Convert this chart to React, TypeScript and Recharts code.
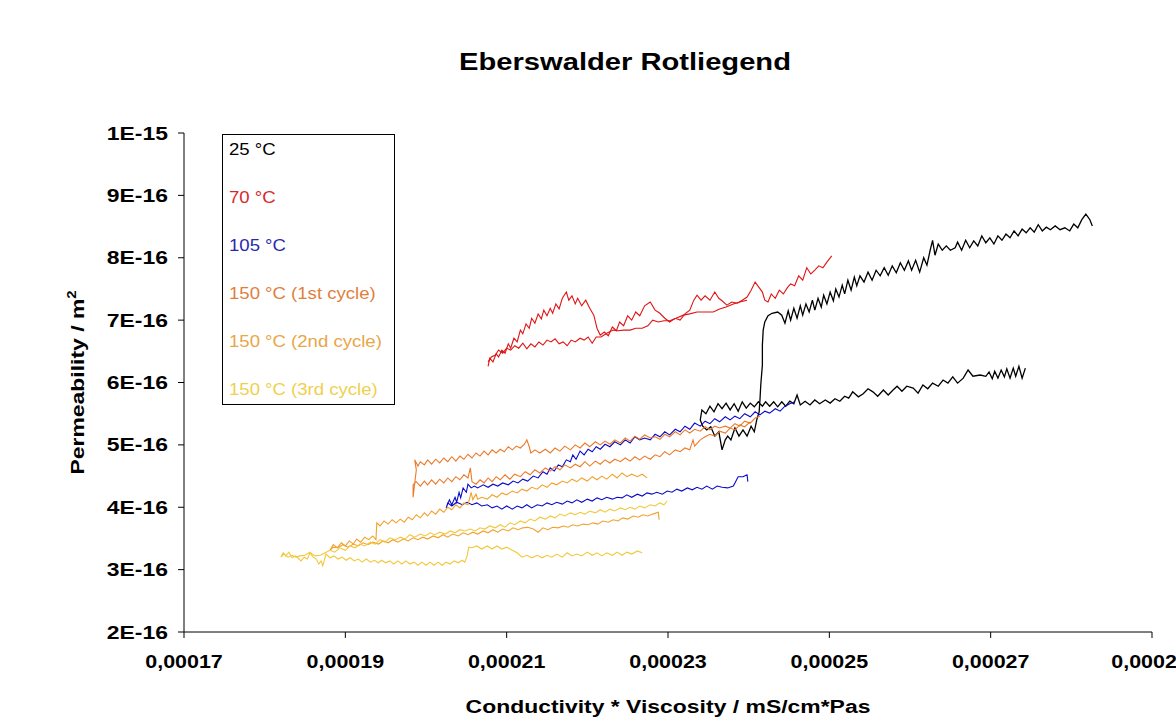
import React from "react"
import { LineChart, Line, XAxis, YAxis, Label } from "recharts"

// x in 1e-5 mS/cm*Pas, y in 1e-16 m²
const black25Low: [number, number][] = [
  [27.43, 6.23], [27.39, 6.07], [27.35, 6.26], [27.31, 6.1], [27.28, 6.23], [27.24, 6.07], [27.2, 6.22], [27.17, 6.09],
  [27.13, 6.2], [27.09, 6.07], [27.05, 6.18], [27.02, 6.06], [26.98, 6.17], [26.94, 6.1], [26.87, 6.12], [26.78, 6.1],
  [26.72, 6.2], [26.66, 6.07], [26.59, 5.99], [26.53, 6.09], [26.47, 5.99], [26.41, 6.04], [26.35, 5.94], [26.28, 5.99],
  [26.22, 5.9], [26.16, 5.96], [26.1, 5.83], [26.04, 5.91], [25.96, 5.94], [25.9, 5.86], [25.84, 5.94], [25.79, 5.88],
  [25.73, 5.8], [25.67, 5.88], [25.6, 5.78], [25.54, 5.85], [25.48, 5.9], [25.42, 5.82], [25.36, 5.77], [25.29, 5.85],
  [25.24, 5.75], [25.19, 5.78], [25.13, 5.7], [25.07, 5.74], [25.01, 5.67], [24.95, 5.72], [24.88, 5.66], [24.82, 5.72],
  [24.76, 5.64], [24.7, 5.7], [24.64, 5.64], [24.6, 5.8], [24.56, 5.66], [24.51, 5.7], [24.46, 5.62], [24.41, 5.69],
  [24.36, 5.61], [24.31, 5.69], [24.26, 5.62], [24.21, 5.69], [24.17, 5.62], [24.12, 5.69], [24.07, 5.61], [24.02, 5.67],
  [23.97, 5.59], [23.92, 5.69], [23.87, 5.54], [23.82, 5.66], [23.77, 5.56], [23.72, 5.67], [23.67, 5.58], [23.62, 5.66],
  [23.57, 5.53], [23.52, 5.62], [23.47, 5.5], [23.42, 5.56], [23.4, 5.4],
]
const black25Jump: [number, number][] = [
  [23.43, 5.3], [23.48, 5.24], [23.53, 5.29], [23.58, 5.14], [23.63, 5.21], [23.67, 4.92], [23.71, 5.08], [23.74, 5.14],
  [23.78, 5.08], [23.83, 5.27], [23.88, 5.14], [23.93, 5.24], [23.98, 5.14], [24.03, 5.3], [24.07, 5.21], [24.1, 5.4],
  [24.13, 5.53], [24.14, 5.72], [24.15, 5.96], [24.17, 6.28], [24.17, 6.6], [24.18, 6.84], [24.2, 6.97], [24.24, 7.07],
  [24.29, 7.11], [24.36, 7.13], [24.41, 7.08],
]
const black25High: [number, number][] = [
  [24.45, 6.95], [24.49, 7.15], [24.52, 7.0], [24.56, 7.19], [24.6, 7.03], [24.64, 7.23], [24.67, 7.08], [24.71, 7.26],
  [24.75, 7.13], [24.79, 7.32], [24.82, 7.16], [24.86, 7.35], [24.9, 7.21], [24.93, 7.4], [24.97, 7.26], [25.01, 7.45],
  [25.05, 7.31], [25.08, 7.5], [25.12, 7.37], [25.16, 7.56], [25.19, 7.42], [25.23, 7.64], [25.27, 7.48], [25.31, 7.69],
  [25.34, 7.55], [25.38, 7.71], [25.43, 7.61], [25.48, 7.77], [25.53, 7.64], [25.58, 7.8], [25.63, 7.71], [25.68, 7.84],
  [25.73, 7.72], [25.78, 7.87], [25.83, 7.76], [25.88, 7.92], [25.93, 7.8], [25.98, 7.95], [26.02, 7.8], [26.07, 7.96],
  [26.12, 7.77], [26.17, 8.0], [26.21, 7.88], [26.25, 8.12], [26.28, 8.28], [26.31, 8.04], [26.35, 8.22], [26.4, 8.12],
  [26.45, 8.19], [26.5, 8.12], [26.56, 8.16], [26.59, 8.25], [26.64, 8.12], [26.69, 8.28], [26.74, 8.16], [26.79, 8.27],
  [26.84, 8.19], [26.89, 8.35], [26.94, 8.24], [26.99, 8.32], [27.04, 8.22], [27.09, 8.35], [27.14, 8.28], [27.19, 8.38],
  [27.24, 8.32], [27.29, 8.43], [27.34, 8.35], [27.39, 8.46], [27.44, 8.4], [27.49, 8.48], [27.54, 8.41], [27.59, 8.53],
  [27.64, 8.43], [27.69, 8.49], [27.74, 8.45], [27.8, 8.51], [27.86, 8.45], [27.92, 8.48], [27.98, 8.43], [28.03, 8.54],
  [28.08, 8.48], [28.13, 8.61], [28.18, 8.7], [28.23, 8.61], [28.26, 8.51],
]

const red70Heat: [number, number][] = [
  [20.77, 6.26], [20.79, 6.39], [20.83, 6.33], [20.87, 6.46], [20.9, 6.41], [20.94, 6.52], [20.98, 6.47], [21.02, 6.62],
  [21.05, 6.55], [21.09, 6.71], [21.13, 6.65], [21.17, 6.84], [21.2, 6.78], [21.24, 6.94], [21.28, 6.87], [21.31, 7.03],
  [21.35, 6.95], [21.39, 7.1], [21.43, 7.02], [21.46, 7.16], [21.5, 7.07], [21.54, 7.19], [21.57, 7.11], [21.61, 7.26],
  [21.65, 7.18], [21.69, 7.35], [21.74, 7.45], [21.77, 7.32], [21.81, 7.39], [21.85, 7.26], [21.88, 7.35], [21.93, 7.23],
  [21.98, 7.32], [22.03, 7.19], [22.08, 7.08], [22.12, 6.87], [22.16, 6.76], [22.21, 6.81], [22.26, 6.75], [22.31, 6.89],
  [22.36, 6.83], [22.4, 6.97], [22.45, 6.91], [22.5, 7.07], [22.55, 7.0], [22.6, 7.13], [22.65, 7.07], [22.71, 7.23],
  [22.78, 7.29], [22.84, 7.16], [22.9, 7.11], [22.96, 7.03], [23.02, 6.97], [23.09, 7.03], [23.15, 7.0], [23.21, 7.1],
  [23.27, 7.16], [23.32, 7.32], [23.36, 7.4], [23.41, 7.32], [23.46, 7.39], [23.52, 7.32], [23.58, 7.45], [23.63, 7.35],
  [23.67, 7.31], [23.73, 7.24], [23.79, 7.29], [23.86, 7.27], [23.92, 7.32], [23.98, 7.37], [24.03, 7.48], [24.08, 7.61],
  [24.13, 7.52], [24.17, 7.45], [24.2, 7.32], [24.24, 7.29], [24.28, 7.42], [24.33, 7.35], [24.38, 7.48], [24.43, 7.42],
  [24.48, 7.52], [24.52, 7.58], [24.57, 7.55], [24.62, 7.71], [24.67, 7.64], [24.72, 7.84], [24.77, 7.74], [24.82, 7.8],
  [24.87, 7.87], [24.92, 7.84], [24.97, 7.93], [25.03, 8.03],
]
const red70Cool: [number, number][] = [
  [23.98, 7.32], [23.89, 7.29], [23.81, 7.26], [23.72, 7.21], [23.64, 7.18], [23.56, 7.13], [23.46, 7.13], [23.36, 7.13],
  [23.27, 7.1], [23.19, 7.08], [23.1, 7.03], [23.02, 6.99], [22.95, 6.99], [22.88, 6.97], [22.81, 7.0], [22.75, 6.91],
  [22.68, 6.87], [22.6, 6.87], [22.53, 6.84], [22.45, 6.84], [22.38, 6.83], [22.32, 6.84], [22.24, 6.79], [22.17, 6.73],
  [22.11, 6.73], [22.06, 6.63], [22.01, 6.73], [21.96, 6.68], [21.91, 6.71], [21.85, 6.65], [21.8, 6.68], [21.75, 6.59],
  [21.7, 6.65], [21.65, 6.62], [21.6, 6.7], [21.55, 6.65], [21.5, 6.68], [21.45, 6.6], [21.4, 6.65], [21.35, 6.57],
  [21.3, 6.62], [21.25, 6.54], [21.2, 6.63], [21.15, 6.55], [21.1, 6.59], [21.05, 6.52], [21.0, 6.55], [20.95, 6.47],
  [20.9, 6.52], [20.86, 6.44], [20.81, 6.41], [20.77, 6.33],
]

const blue105Low: [number, number][] = [
  [23.99, 4.41], [23.98, 4.52], [23.93, 4.49], [23.87, 4.49], [23.81, 4.34], [23.74, 4.31], [23.67, 4.32], [23.61, 4.34],
  [23.55, 4.29], [23.48, 4.34], [23.42, 4.29], [23.36, 4.32], [23.3, 4.28], [23.24, 4.31], [23.17, 4.26], [23.11, 4.29],
  [23.05, 4.24], [22.99, 4.26], [22.93, 4.21], [22.86, 4.24], [22.8, 4.21], [22.74, 4.23], [22.68, 4.18], [22.62, 4.21],
  [22.55, 4.16], [22.49, 4.2], [22.43, 4.15], [22.37, 4.16], [22.31, 4.13], [22.24, 4.16], [22.18, 4.12], [22.12, 4.15],
  [22.06, 4.1], [22.0, 4.13], [21.93, 4.08], [21.87, 4.12], [21.81, 4.07], [21.75, 4.1], [21.69, 4.05], [21.62, 4.08],
  [21.56, 4.04], [21.5, 4.07], [21.44, 4.02], [21.38, 4.04], [21.31, 3.99], [21.25, 4.04], [21.19, 3.99], [21.13, 4.02],
  [21.07, 3.97], [21.0, 4.02], [20.94, 3.97], [20.88, 4.02], [20.82, 3.99], [20.76, 4.04], [20.69, 4.02], [20.63, 4.07],
  [20.57, 4.04], [20.51, 4.08], [20.45, 4.04], [20.38, 4.08], [20.32, 4.02], [20.27, 4.07], [20.25, 3.99],
]
const blue105Step: [number, number][] = [
  [20.29, 4.12], [20.32, 4.04], [20.36, 4.16], [20.38, 4.08], [20.41, 4.24], [20.43, 4.15], [20.46, 4.31], [20.5, 4.24],
  [20.52, 4.37], [20.56, 4.31], [20.6, 4.34],
]
const blue105High: [number, number][] = [
  [20.64, 4.31], [20.71, 4.36], [20.77, 4.32], [20.83, 4.37], [20.89, 4.34], [20.95, 4.39], [21.02, 4.36], [21.08, 4.42],
  [21.14, 4.39], [21.2, 4.45], [21.26, 4.42], [21.33, 4.5], [21.39, 4.47], [21.45, 4.57], [21.5, 4.53], [21.54, 4.63],
  [21.59, 4.58], [21.64, 4.68], [21.69, 4.65], [21.74, 4.76], [21.79, 4.73], [21.82, 4.84], [21.86, 4.77], [21.91, 4.9],
  [21.96, 4.84], [22.01, 4.93], [22.06, 4.89], [22.11, 4.97], [22.16, 4.93], [22.22, 5.01], [22.28, 4.97], [22.34, 5.05],
  [22.41, 5.0], [22.47, 5.08], [22.53, 5.03], [22.59, 5.13], [22.65, 5.08], [22.71, 5.11], [22.78, 5.08], [22.84, 5.17],
  [22.9, 5.13], [22.96, 5.21], [23.02, 5.16], [23.09, 5.25], [23.15, 5.21], [23.21, 5.3], [23.27, 5.25], [23.33, 5.35],
  [23.4, 5.3], [23.46, 5.38], [23.52, 5.34], [23.58, 5.42], [23.64, 5.37], [23.71, 5.45], [23.77, 5.4], [23.83, 5.46],
  [23.89, 5.42], [23.95, 5.5], [24.02, 5.45], [24.08, 5.53], [24.14, 5.48], [24.2, 5.54], [24.26, 5.51], [24.33, 5.58],
  [24.39, 5.54], [24.45, 5.62], [24.51, 5.66], [24.57, 5.69],
]

const c1High: [number, number][] = [
  [19.88, 4.6], [19.86, 4.76], [19.9, 4.66], [19.93, 4.73], [19.98, 4.68], [20.02, 4.76], [20.07, 4.69], [20.12, 4.77],
  [20.17, 4.71], [20.22, 4.79], [20.27, 4.73], [20.32, 4.81], [20.37, 4.74], [20.42, 4.82], [20.47, 4.77], [20.52, 4.85],
  [20.57, 4.79], [20.62, 4.87], [20.67, 4.82], [20.72, 4.9], [20.77, 4.84], [20.82, 4.92], [20.87, 4.87], [20.92, 4.93],
  [20.97, 4.89], [21.02, 4.97], [21.07, 4.92], [21.12, 4.98], [21.17, 4.95], [21.22, 5.01], [21.25, 5.08], [21.28, 4.97],
  [21.3, 4.87], [21.35, 4.92], [21.41, 4.87], [21.48, 4.93], [21.54, 4.87], [21.6, 4.95], [21.66, 4.9], [21.72, 4.98],
  [21.79, 4.92], [21.85, 5.0], [21.91, 4.95], [21.97, 5.03], [22.03, 4.97], [22.1, 5.05], [22.16, 5.0], [22.22, 5.06],
  [22.28, 5.01], [22.34, 5.08], [22.41, 5.03], [22.47, 5.11], [22.53, 5.06], [22.59, 5.14], [22.65, 5.09], [22.71, 5.16],
  [22.78, 5.11], [22.84, 5.13], [22.9, 5.09], [22.96, 5.17], [23.02, 5.13], [23.09, 5.21], [23.15, 5.16], [23.21, 5.24],
  [23.27, 5.19], [23.33, 5.25], [23.4, 5.22], [23.46, 5.29], [23.52, 5.24], [23.58, 5.3], [23.64, 5.27], [23.71, 5.3],
  [23.77, 5.27], [23.83, 5.34], [23.89, 5.3], [23.95, 5.38], [24.02, 5.35], [24.08, 5.43], [24.14, 5.46],
]
const c1Low: [number, number][] = [
  [19.84, 4.16], [19.84, 4.36], [19.88, 4.41], [19.93, 4.34], [19.98, 4.42], [20.02, 4.36], [20.07, 4.44], [20.12, 4.37],
  [20.17, 4.45], [20.22, 4.39], [20.27, 4.47], [20.32, 4.41], [20.37, 4.49], [20.42, 4.44], [20.47, 4.52], [20.52, 4.47],
  [20.55, 4.63], [20.57, 4.41], [20.62, 4.37], [20.67, 4.44], [20.72, 4.39], [20.77, 4.47], [20.82, 4.41], [20.87, 4.49],
  [20.92, 4.44], [20.98, 4.52], [21.04, 4.45], [21.1, 4.53], [21.17, 4.49], [21.23, 4.57], [21.29, 4.52], [21.35, 4.6],
  [21.41, 4.55], [21.48, 4.63], [21.54, 4.58], [21.6, 4.65], [21.66, 4.6], [21.72, 4.68], [21.79, 4.63], [21.85, 4.69],
  [21.91, 4.65], [21.97, 4.73], [22.03, 4.66], [22.1, 4.74], [22.16, 4.69], [22.22, 4.76], [22.28, 4.71], [22.34, 4.77],
  [22.41, 4.73], [22.47, 4.79], [22.53, 4.74], [22.59, 4.81], [22.65, 4.76], [22.71, 4.82], [22.78, 4.77], [22.84, 4.84],
  [22.9, 4.81], [22.96, 4.89], [23.02, 4.84], [23.09, 4.92], [23.15, 4.89], [23.21, 4.95], [23.27, 4.92], [23.31, 5.08],
  [23.33, 4.98], [23.4, 5.08], [23.46, 5.13], [23.52, 5.17], [23.58, 5.14], [23.64, 5.22], [23.71, 5.19], [23.77, 5.27],
  [23.83, 5.24], [23.89, 5.32], [23.95, 5.29], [24.02, 5.37],
]

const c2Rise: [number, number][] = [
  [18.81, 3.31], [18.85, 3.4], [18.9, 3.35], [18.95, 3.43], [19.0, 3.38], [19.05, 3.46], [19.1, 3.41], [19.14, 3.49],
  [19.19, 3.44], [19.24, 3.52], [19.29, 3.48], [19.34, 3.54], [19.38, 3.48], [19.39, 3.75], [19.43, 3.7], [19.48, 3.78],
  [19.53, 3.73], [19.58, 3.8], [19.63, 3.75], [19.68, 3.81], [19.73, 3.76], [19.78, 3.84], [19.83, 3.8], [19.88, 3.88],
  [19.93, 3.83], [19.98, 3.91], [20.02, 3.86], [20.07, 3.94], [20.12, 3.89], [20.17, 3.97], [20.22, 3.92], [20.27, 4.0],
  [20.32, 3.96], [20.37, 4.04], [20.42, 3.99], [20.47, 4.07], [20.52, 4.04], [20.56, 4.24], [20.58, 4.12], [20.62, 4.21],
  [20.64, 4.13], [20.69, 4.16], [20.76, 4.13], [20.82, 4.2], [20.88, 4.16], [20.94, 4.23], [21.0, 4.2], [21.07, 4.26],
  [21.13, 4.23], [21.19, 4.29], [21.25, 4.26], [21.31, 4.32], [21.38, 4.29], [21.44, 4.36], [21.5, 4.32], [21.56, 4.39],
  [21.62, 4.36], [21.69, 4.42], [21.75, 4.39], [21.81, 4.45], [21.87, 4.41], [21.93, 4.47], [22.0, 4.42], [22.06, 4.49],
  [22.12, 4.44], [22.18, 4.5], [22.24, 4.45], [22.31, 4.53], [22.37, 4.47], [22.43, 4.55], [22.49, 4.49], [22.55, 4.53],
  [22.62, 4.49], [22.68, 4.53], [22.74, 4.47],
]
const c2Cool: [number, number][] = [
  [22.89, 3.8], [22.88, 3.92], [22.81, 3.89], [22.75, 3.86], [22.69, 3.88], [22.63, 3.84], [22.57, 3.86], [22.5, 3.81],
  [22.44, 3.83], [22.38, 3.78], [22.32, 3.8], [22.26, 3.76], [22.19, 3.78], [22.13, 3.73], [22.07, 3.75], [22.01, 3.72],
  [21.95, 3.73], [21.88, 3.7], [21.82, 3.72], [21.76, 3.68], [21.7, 3.7], [21.64, 3.67], [21.57, 3.68], [21.51, 3.64],
  [21.45, 3.67], [21.39, 3.6], [21.33, 3.65], [21.26, 3.68], [21.2, 3.67], [21.14, 3.64], [21.08, 3.67], [21.02, 3.62],
  [20.95, 3.65], [20.89, 3.6], [20.83, 3.64], [20.77, 3.59], [20.71, 3.62], [20.64, 3.57], [20.58, 3.6], [20.52, 3.56],
  [20.46, 3.59], [20.4, 3.54], [20.33, 3.57], [20.27, 3.52], [20.21, 3.56], [20.15, 3.51], [20.09, 3.54], [20.02, 3.49],
  [19.96, 3.52], [19.9, 3.48], [19.84, 3.51], [19.78, 3.46], [19.72, 3.49], [19.65, 3.44], [19.59, 3.48], [19.53, 3.43],
  [19.47, 3.46], [19.41, 3.41], [19.34, 3.44], [19.28, 3.4], [19.22, 3.43], [19.16, 3.38], [19.1, 3.41], [19.03, 3.36],
  [18.97, 3.4], [18.91, 3.35], [18.85, 3.36], [18.81, 3.31],
]

const c3Low: [number, number][] = [
  [22.68, 3.27], [22.62, 3.3], [22.55, 3.25], [22.49, 3.28], [22.43, 3.23], [22.37, 3.28], [22.31, 3.23], [22.24, 3.27],
  [22.18, 3.22], [22.12, 3.27], [22.06, 3.23], [22.0, 3.28], [21.93, 3.22], [21.87, 3.25], [21.81, 3.22], [21.75, 3.27],
  [21.69, 3.2], [21.62, 3.25], [21.56, 3.2], [21.5, 3.23], [21.44, 3.19], [21.38, 3.23], [21.31, 3.19], [21.25, 3.23],
  [21.19, 3.2], [21.13, 3.27], [21.07, 3.31], [21.0, 3.36], [20.94, 3.33], [20.88, 3.38], [20.82, 3.33], [20.76, 3.38],
  [20.69, 3.33], [20.63, 3.38], [20.57, 3.35], [20.53, 3.36], [20.51, 3.22], [20.48, 3.12], [20.45, 3.15], [20.4, 3.11],
  [20.35, 3.14], [20.3, 3.09], [20.25, 3.12], [20.2, 3.07], [20.15, 3.12], [20.1, 3.07], [20.05, 3.12], [20.0, 3.07],
  [19.95, 3.12], [19.9, 3.07], [19.85, 3.12], [19.8, 3.09], [19.75, 3.14], [19.7, 3.09], [19.65, 3.14], [19.6, 3.09],
  [19.55, 3.14], [19.5, 3.11], [19.45, 3.15], [19.41, 3.11], [19.36, 3.15], [19.31, 3.12], [19.26, 3.17], [19.21, 3.12],
  [19.16, 3.17], [19.11, 3.14], [19.06, 3.19], [19.01, 3.15], [18.96, 3.2], [18.91, 3.17], [18.86, 3.22], [18.81, 3.19],
  [18.76, 3.25],
]
const c3Tail: [number, number][] = [
  [18.72, 3.06], [18.7, 3.14], [18.67, 3.09], [18.64, 3.17], [18.6, 3.2], [18.56, 3.27], [18.53, 3.17], [18.49, 3.2],
  [18.45, 3.14], [18.41, 3.19], [18.38, 3.22], [18.34, 3.19], [18.3, 3.28], [18.26, 3.22], [18.23, 3.27], [18.2, 3.2],
  [18.24, 3.25], [18.29, 3.2], [18.34, 3.23], [18.39, 3.2], [18.44, 3.22], [18.5, 3.23], [18.56, 3.28], [18.62, 3.22],
  [18.69, 3.23], [18.75, 3.27],
]
const c3High: [number, number][] = [
  [18.81, 3.31], [18.87, 3.28], [18.93, 3.35], [19.0, 3.31], [19.06, 3.38], [19.12, 3.35], [19.18, 3.41], [19.24, 3.38],
  [19.31, 3.44], [19.37, 3.41], [19.43, 3.48], [19.49, 3.44], [19.55, 3.51], [19.62, 3.48], [19.68, 3.52], [19.74, 3.49],
  [19.8, 3.56], [19.86, 3.52], [19.93, 3.57], [19.99, 3.54], [20.05, 3.59], [20.11, 3.56], [20.17, 3.6], [20.24, 3.57],
  [20.3, 3.62], [20.36, 3.59], [20.42, 3.64], [20.48, 3.62], [20.55, 3.65], [20.61, 3.62], [20.67, 3.67], [20.73, 3.65],
  [20.79, 3.7], [20.86, 3.67], [20.92, 3.72], [20.98, 3.68], [21.04, 3.75], [21.1, 3.72], [21.17, 3.78], [21.23, 3.75],
  [21.29, 3.81], [21.35, 3.78], [21.41, 3.84], [21.48, 3.81], [21.54, 3.86], [21.6, 3.83], [21.66, 3.89], [21.72, 3.86],
  [21.79, 3.91], [21.85, 3.88], [21.91, 3.92], [21.97, 3.89], [22.03, 3.94], [22.1, 3.91], [22.16, 3.96], [22.22, 3.92],
  [22.28, 3.97], [22.34, 3.94], [22.41, 3.99], [22.47, 3.96], [22.53, 4.0], [22.59, 3.97], [22.65, 4.02], [22.71, 3.99],
  [22.78, 4.04], [22.84, 4.02], [22.9, 4.07], [22.95, 4.04], [22.99, 4.1],
]

const X_TICKS = [0.00017, 0.00019, 0.00021, 0.00023, 0.00025, 0.00027, 0.00029]
const Y_TICKS = [2e-16, 3e-16, 4e-16, 5e-16, 6e-16, 7e-16, 8e-16, 9e-16, 1e-15]

const LEGEND = [
  { name: "25 °C", color: "#000000" },
  { name: "70 °C", color: "#d42a2a" },
  { name: "105 °C", color: "#2a2aa8" },
  { name: "150 °C (1st cycle)", color: "#e07e3c" },
  { name: "150 °C (2nd cycle)", color: "#e9a645" },
  { name: "150 °C (3rd cycle)", color: "#efd04e" },
]

const BLACK = "#000000"
const RED = "#e01414"
const BLUE = "#0a0ac8"
const C1 = "#ec7a2a"
const C2 = "#f2a22c"
const C3 = "#f2c83a"

const FONT = "Arial, 'Liberation Sans', sans-serif"
const SX = 1.24 // the original picture is stretched sideways

const pts = (a: [number, number][]) => a.map(([x, y]) => ({ x: x * 1e-5, y: y * 1e-16 }))

const fmtX = (v: number) => v.toFixed(5).replace(".", ",")
const fmtY = (v: number) => (v > 9.5e-16 ? "1E-15" : `${Math.round(v * 1e16)}E-16`)

const XTick = ({ x, y, payload }: any) => (
  <text
    transform={`translate(${x},${y + 28}) scale(1.16,1)`}
    textAnchor="middle"
    fontSize={18.5}
    fontWeight="bold"
    fontFamily={FONT}
    fill="#000"
  >
    {fmtX(payload.value)}
  </text>
)

const YTick = ({ x, y, payload }: any) => (
  <text
    transform={`translate(${x - 8},${y + 6.5}) scale(${SX},1)`}
    textAnchor="end"
    fontSize={18.5}
    fontWeight="bold"
    fontFamily={FONT}
    fill="#000"
  >
    {fmtY(payload.value)}
  </text>
)

const XTitle = ({ viewBox }: any) => (
  <text
    transform={`translate(${viewBox.x + viewBox.width / 2},713) scale(${SX},1)`}
    textAnchor="middle"
    fontSize={18.5}
    fontWeight="bold"
    fontFamily={FONT}
  >
    Conductivity * Viscosity / mS/cm*Pas
  </text>
)

const YTitle = ({ viewBox }: any) => (
  <text
    transform={`translate(84,${viewBox.y + viewBox.height / 2}) rotate(-90) scale(${SX},1)`}
    textAnchor="middle"
    fontSize={18.5}
    fontWeight="bold"
    fontFamily={FONT}
  >
    Permeability / m
    <tspan dy={-8} fontSize={12}>
      2
    </tspan>
  </text>
)

export default function App() {
  const lines = [
    { key: "b25", color: BLACK, w: 1.3, data: pts([...black25Low, ...black25Jump, ...black25High]) },
    { key: "r70a", color: RED, w: 1.1, data: pts(red70Heat) },
    { key: "r70b", color: RED, w: 1.1, data: pts(red70Cool) },
    { key: "bl105", color: BLUE, w: 1.1, data: pts([...blue105Low, ...blue105Step, ...blue105High]) },
    { key: "c1", color: C1, w: 1.1, data: pts([...c1High].reverse().concat(c1Low)) },
    { key: "c2a", color: C2, w: 1.1, data: pts(c2Rise) },
    { key: "c2b", color: C2, w: 1.1, data: pts(c2Cool) },
    { key: "c3", color: C3, w: 1.1, data: pts([...c3Low, ...c3Tail, ...c3High]) },
  ]

  return (
    <div style={{ position: "absolute", left: 0, top: 0, width: 1176, height: 726, background: "#fff", fontFamily: FONT }}>
      <div
        style={{
          position: "absolute",
          left: 0,
          width: 1250,
          top: 48,
          textAlign: "center",
          fontSize: 23.5,
          fontWeight: "bold",
          lineHeight: "28px",
          transform: `scaleX(${SX})`,
          transformOrigin: "625px 0",
        }}
      >
        Eberswalder Rotliegend
      </div>

      <LineChart width={1176} height={726} margin={{ top: 133, right: 24, bottom: 34, left: 0 }}>
        <XAxis
          type="number"
          dataKey="x"
          domain={[0.00017, 0.00029]}
          ticks={X_TICKS}
          allowDataOverflow
          height={60}
          stroke="#000"
          tickSize={6}
          tick={<XTick />}
        >
          <Label content={<XTitle />} />
        </XAxis>
        <YAxis
          type="number"
          dataKey="y"
          domain={[2e-16, 1e-15]}
          ticks={Y_TICKS}
          allowDataOverflow
          width={184}
          stroke="#000"
          tickSize={6}
          tick={<YTick />}
        >
          <Label content={<YTitle />} />
        </YAxis>
        {lines.map((l) => (
          <Line
            key={l.key}
            data={l.data}
            dataKey="y"
            type="linear"
            stroke={l.color}
            strokeWidth={l.w}
            dot={false}
            activeDot={false}
            isAnimationActive={false}
          />
        ))}
      </LineChart>

      <div
        style={{
          position: "absolute",
          left: 222,
          top: 134,
          width: 173,
          height: 271,
          boxSizing: "border-box",
          border: "1px solid #000",
          background: "#fff",
        }}
      >
        {LEGEND.map((e, i) => (
          <div
            key={e.name}
            style={{
              position: "absolute",
              left: 6,
              top: 6 + i * 48,
              fontSize: 16,
              lineHeight: "18px",
              color: e.color,
              whiteSpace: "nowrap",
              transform: "scaleX(1.16)",
              transformOrigin: "0 0",
            }}
          >
            {e.name}
          </div>
        ))}
      </div>
    </div>
  )
}
